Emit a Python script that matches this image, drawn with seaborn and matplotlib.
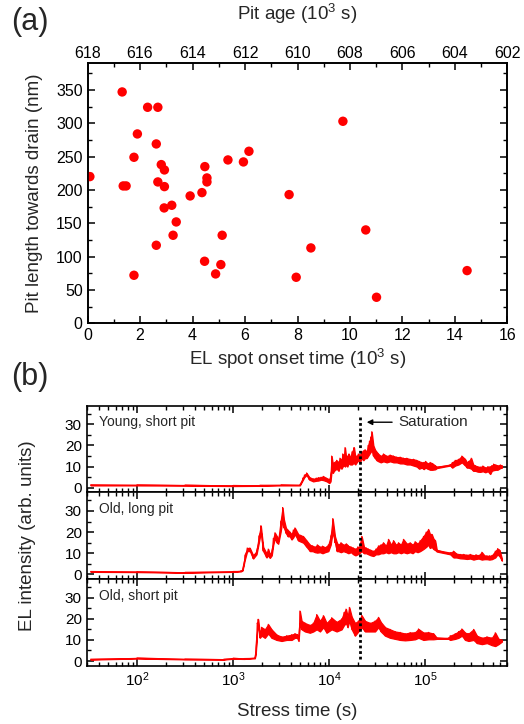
import numpy as np
import pandas as pd
import seaborn as sns
import matplotlib.pyplot as plt
from matplotlib.ticker import MultipleLocator, LogLocator, NullFormatter

### (a) pit length vs EL spot onset time
onset = [0.09, 1.32, 1.36, 1.47, 1.77, 1.77, 1.90, 2.29, 2.68, 2.62, 2.81, 2.93, 2.68,
         2.93, 2.92, 3.21, 3.38, 3.26, 2.62, 3.91, 4.36, 4.47, 4.55, 4.55, 4.46, 4.88,
         5.08, 5.13, 5.35, 5.94, 6.15, 7.68, 7.95, 8.51, 9.73, 10.60, 11.01, 14.46]
pit_len = [220, 347, 206, 206, 249, 72, 284, 324, 324, 269, 238, 230, 212,
           205, 173, 177, 152, 132, 117, 191, 196, 235, 218, 212, 93, 74,
           88, 132, 245, 242, 258, 193, 69, 113, 303, 140, 39, 79]
age_ref = 618  # pit age = 618 - onset (10^3 s)

### (b) EL traces: time (s), lower / upper edge of the noisy trace
young_t = [33, 100, 316, 1000, 1900, 3160, 4940, 5280, 5500, 5800, 6200, 6800, 7300, 7700,
           8200, 8660, 9400, 10000, 10300, 10570, 10900, 11200, 11900, 12500, 12900, 13400,
           13770, 14200, 14560, 15000, 15400, 16000, 16420, 17220, 18070, 18600, 19270,
           20000, 20850, 21700, 22590, 23500, 24490, 25300, 26120, 27000, 27610, 28730,
           29900, 31000, 32390, 34300, 36520, 39500, 42870, 46500, 50270, 54500, 59000,
           64000, 69250, 75000, 81220, 86000, 91580, 96000, 100000, 105000, 111900,
           118000, 126200, 131300, 180700, 190000, 203800, 220700, 238900, 258800,
           270000, 280500, 299200, 314000, 329000, 350000, 371000, 395000, 419000,
           445000, 472000, 490000, 511000, 540000, 562000, 600000, 624000]
young_lo = [1.1, 1.1, 1.0, 0.8, 0.9, 1.1, 1.1, 3.5, 5.0, 6.0, 3.8, 3.0, 3.3, 3.4,
            3.8, 3.6, 3.0, 2.2, 3.0, 8.0, 7.0, 8.0, 9.0, 8.0, 10.0, 9.0,
            10.0, 11.0, 10.0, 11.0, 10.0, 12.0, 11.0, 11.0, 12.0, 11.0, 12.0,
            13.0, 12.0, 14.0, 13.0, 14.0, 14.0, 15.0, 16.0, 17.0, 18.0, 15.0,
            14.0, 13.0, 12.5, 12.0, 12.5, 12.0, 12.5, 12.0, 12.0, 11.5, 11.5,
            11.0, 11.0, 10.5, 10.0, 9.0, 9.5, 8.8, 9.5, 9.0, 8.5,
            8.5, 8.7, 9.3, 10.5, 9.5, 10.5, 11.0, 12.0, 10.5,
            9.5, 9.5, 9.0, 8.0, 8.0, 7.6, 7.5, 7.8, 7.3,
            7.8, 6.5, 8.0, 8.3, 8.5, 8.5, 9.3, 9.5]
young_hi = [1.4, 1.4, 1.3, 1.1, 1.2, 1.4, 1.4, 4.5, 6.0, 7.0, 5.0, 4.2, 4.6, 4.8,
            5.0, 5.4, 4.5, 4.0, 6.0, 15.0, 11.0, 12.0, 13.0, 12.0, 14.0, 13.0,
            16.0, 15.0, 19.0, 14.0, 15.0, 16.0, 14.0, 17.0, 19.0, 15.0, 15.0,
            16.0, 15.5, 17.0, 17.5, 18.0, 17.0, 20.0, 22.0, 24.0, 26.5, 20.0,
            18.0, 17.0, 16.0, 15.0, 16.0, 15.0, 15.5, 15.0, 14.5, 14.5, 14.0,
            14.0, 13.5, 13.5, 13.0, 12.5, 12.0, 12.0, 12.5, 11.5, 12.0,
            11.5, 10.5, 9.8, 11.0, 12.0, 13.0, 13.5, 15.0, 13.5,
            12.0, 12.5, 14.0, 11.0, 10.5, 10.0, 9.8, 10.3, 9.5,
            10.0, 10.0, 10.5, 11.2, 10.8, 10.5, 10.8, 10.5]

oldlong_t = [33, 100, 316, 1000, 1200, 1251, 1324, 1399, 1492, 1615, 1750, 1849, 1941,
             2053, 2223, 2316, 2410, 2520, 2612, 2718, 2850, 2943, 3113, 3265, 3373,
             3540, 3700, 3891, 4050, 4217, 4387, 4753, 5050, 5357, 5805, 6292, 6700,
             7095, 7500, 8000, 8500, 9020, 9770, 10330, 10840, 11460, 12000, 12410,
             13200, 13990, 15000, 15770, 16800, 17780, 18700, 19720, 20500, 21720,
             22960, 24200, 25470, 27000, 28730, 30500, 32390, 34400, 36520, 38800,
             41180, 43800, 46420, 49300, 52350, 55500, 59000, 64000, 69250, 73500,
             78040, 82800, 87970, 95260, 101600, 107400, 111500, 116400, 121000,
             126200, 131300, 180700, 195900, 210000, 229600, 250000, 269800, 292000,
             316200, 335000, 356500, 386200, 410000, 435500, 463000, 491000, 532000,
             562300, 590200, 624000]
oldlong_lo = [1.2, 1.1, 0.8, 1.2, 1.4, 1.8, 7.0, 11.0, 11.0, 7.5, 9.5, 15.0, 20.0,
              11.0, 8.0, 9.0, 7.8, 9.0, 14.0, 17.0, 15.0, 14.5, 20.0, 26.0, 22.0,
              19.5, 18.0, 18.0, 16.5, 17.5, 19.0, 16.0, 15.5, 15.0, 13.0, 11.0, 11.0,
              10.5, 10.3, 10.5, 10.0, 10.5, 11.0, 14.0, 20.0, 15.0, 11.0, 11.0,
              10.5, 11.0, 10.5, 10.0, 10.5, 9.5, 9.0, 9.5, 10.0, 11.0,
              10.0, 10.0, 9.5, 9.0, 8.7, 9.5, 9.5, 10.0, 10.0, 10.5,
              10.0, 10.5, 10.0, 10.0, 10.5, 10.0, 10.5, 10.0, 10.5, 10.0,
              11.0, 10.5, 11.0, 12.0, 13.0, 14.0, 12.5, 13.0, 12.0,
              11.5, 10.8, 9.5, 8.0, 8.0, 7.6, 7.5, 7.3, 7.5,
              7.0, 7.3, 7.5, 7.0, 7.2, 7.2, 7.0, 7.2, 8.0,
              9.5, 8.5, 6.5]
oldlong_hi = [1.4, 1.3, 1.0, 1.4, 1.7, 2.2, 9.0, 12.5, 12.5, 9.0, 11.0, 18.0, 23.0,
              13.0, 10.0, 12.0, 9.5, 11.0, 17.0, 19.7, 18.0, 16.0, 25.0, 31.6, 26.0,
              22.0, 21.0, 20.0, 19.0, 21.0, 22.0, 19.0, 18.5, 18.0, 16.0, 14.0, 13.5,
              13.0, 14.0, 13.0, 13.4, 12.8, 14.0, 18.0, 26.4, 18.0, 15.0, 14.0,
              15.0, 14.0, 14.5, 13.5, 13.0, 12.5, 12.0, 13.0, 13.0, 18.0,
              13.0, 12.5, 12.0, 11.5, 11.0, 12.0, 13.5, 14.0, 15.0, 13.5,
              16.6, 14.0, 16.0, 14.0, 15.0, 14.0, 16.6, 14.5, 15.0, 14.0,
              15.5, 14.5, 16.0, 18.0, 20.0, 21.3, 19.0, 19.0, 17.0,
              16.0, 11.5, 10.3, 11.0, 9.8, 9.5, 9.5, 9.2, 9.5,
              9.0, 9.3, 9.0, 10.5, 9.0, 8.8, 8.8, 9.0, 11.0,
              12.2, 11.5, 7.5]

oldshort_t = [33, 100, 316, 800, 1000, 1300, 1682, 1722, 1778, 1820, 1896, 1974, 2138,
              2316, 2508, 2828, 3188, 3594, 4052, 4387, 4642, 4796, 4943, 5150, 5580,
              6292, 6812, 7379, 8000, 8664, 9375, 10570, 11920, 13430, 14220, 14920,
              15520, 16150, 17100, 18500, 20050, 21720, 23530, 26550, 29900, 32390,
              34280, 38020, 42870, 48310, 54450, 61380, 69250, 78040, 84480, 95260,
              107400, 121000, 131300, 173800, 180700, 203800, 220700, 238900, 258800,
              280500, 316200, 342700, 386200, 435500, 491000, 532000, 575400, 624000]
oldshort_lo = [0.7, 1.2, 0.8, 0.7, 1.1, 1.0, 1.3, 4.0, 14.0, 17.0, 11.0, 12.0, 11.0,
               13.0, 11.0, 10.0, 9.5, 10.0, 10.0, 11.0, 11.0, 9.5, 18.0, 15.0, 14.0,
               13.4, 14.0, 15.0, 14.0, 16.0, 13.4, 15.0, 14.0, 15.0, 17.0, 18.0,
               16.0, 19.0, 15.0, 12.0, 14.0, 16.0, 14.0, 14.0, 14.0, 16.0,
               14.0, 12.0, 11.0, 10.5, 10.0, 9.8, 10.0, 10.3, 11.0, 10.0,
               10.3, 10.3, 10.5, 10.5, 10.0, 10.5, 11.0, 12.0, 10.0,
               9.5, 10.0, 8.5, 8.0, 8.5, 7.5, 7.1, 8.0, 9.2]
oldshort_hi = [0.9, 1.5, 1.0, 0.9, 1.4, 1.2, 1.6, 6.0, 18.0, 19.8, 13.0, 16.0, 15.0,
               17.4, 15.0, 12.5, 11.5, 12.0, 12.5, 13.0, 12.6, 11.0, 23.7, 19.0, 18.0,
               17.0, 18.0, 22.0, 19.0, 21.5, 18.0, 20.5, 18.5, 20.0, 23.0, 24.6,
               21.0, 25.4, 21.0, 18.0, 19.0, 21.6, 19.0, 18.0, 19.0, 20.7,
               18.5, 16.0, 15.0, 14.0, 13.6, 13.0, 13.5, 13.6, 15.2, 13.5,
               13.6, 13.0, 11.0, 11.0, 12.0, 13.0, 14.0, 15.2, 13.4,
               13.0, 15.0, 12.0, 11.0, 11.5, 11.0, 13.4, 10.5, 10.0]

panel_names = ['Young, short pit', 'Old, long pit', 'Old, short pit']
saturation_t = 2.1e4

sns.set_theme(style='ticks')
plt.rcParams['font.family'] = ['Liberation Sans', 'DejaVu Sans']
plt.rcParams['mathtext.fontset'] = 'custom'
plt.rcParams['mathtext.rm'] = 'Liberation Sans'
plt.rcParams['mathtext.it'] = 'Liberation Sans:italic'
plt.rcParams['axes.linewidth'] = 1.2
plt.rcParams['axes.edgecolor'] = 'black'
for k in ['xtick', 'ytick']:
    plt.rcParams[k + '.direction'] = 'in'
    plt.rcParams[k + '.major.size'] = 5
    plt.rcParams[k + '.minor.size'] = 3
    plt.rcParams[k + '.major.width'] = 1.1
    plt.rcParams[k + '.minor.width'] = 1.0
    plt.rcParams[k + '.color'] = 'black'
    plt.rcParams[k + '.labelcolor'] = 'black'

fig = plt.figure(figsize=(5.24, 7.24), dpi=100)

### panel (a)
ax = fig.add_axes([0.167, 0.5535, 0.8015, 0.3591])
df = pd.DataFrame({'onset': onset, 'length': pit_len})
sns.scatterplot(data=df, x='onset', y='length', ax=ax, color='red', s=46,
                edgecolor='none', linewidth=0, zorder=3)
ax.set_xlim(0, 16)
ax.set_ylim(0, 390)
ax.xaxis.set_major_locator(MultipleLocator(2))
ax.xaxis.set_minor_locator(MultipleLocator(1))
ax.yaxis.set_major_locator(MultipleLocator(50))
ax.yaxis.set_minor_locator(MultipleLocator(25))
ax.tick_params(which='both', right=True, top=False, labelsize=11.5)
ax.set_xlabel('EL spot onset time (10$^3$ s)', fontsize=13.5, labelpad=3)
ax.set_ylabel('Pit length towards drain (nm)', fontsize=13.5)
ax.yaxis.set_label_coords(-0.105, 0.5)

ax_top = ax.twiny()
ax_top.set_xlim(age_ref - 0, age_ref - 16)
ax_top.xaxis.set_major_locator(MultipleLocator(2))
ax_top.xaxis.set_minor_locator(MultipleLocator(1))
ax_top.tick_params(which='both', labelsize=11.5, pad=1.5)
ax_top.set_xlabel('Pit age (10$^3$ s)', fontsize=13.5, labelpad=19)

### panel (b)
traces = [(young_t, young_lo, young_hi),
          (oldlong_t, oldlong_lo, oldlong_hi),
          (oldshort_t, oldshort_lo, oldshort_hi)]
h = 0.1197
axes_b = []
for i, (t, lo, hi) in enumerate(traces):
    axb = fig.add_axes([0.1655, 0.4396 - (i + 1) * h, 0.8015, h])
    axb.fill_between(t, lo, hi, color='red', edgecolor='red', linewidth=0.9, zorder=2)
    # zig-zag between the two edges gives the trace its noisy look
    zig_t = np.repeat(t, 2)
    zig_y = np.column_stack([lo, hi]).ravel()
    sns.lineplot(x=zig_t, y=zig_y, ax=axb, sort=False, estimator=None,
                 color='red', linewidth=0.8, zorder=2)
    axb.set_xscale('log')
    axb.set_xlim(30, 7e5)
    axb.set_ylim(-2.2, 38.8)
    axb.yaxis.set_major_locator(MultipleLocator(10))
    axb.yaxis.set_minor_locator(MultipleLocator(5))
    axb.xaxis.set_major_locator(LogLocator(base=10, numticks=10))
    axb.xaxis.set_minor_locator(LogLocator(base=10, subs=np.arange(2, 10), numticks=20))
    axb.xaxis.set_minor_formatter(NullFormatter())
    axb.tick_params(which='both', top=True, right=True, labelsize=11)
    if i < 2:
        axb.tick_params(labelbottom=False)
    axb.set_xlabel('')
    axb.set_ylabel('')
    axb.text(0.03, 0.81, panel_names[i], transform=axb.transAxes, fontsize=10,
             ha='left', va='center')
    lo_frac, hi_frac = 0.0, 1.0
    if i == 0:
        hi_frac = 0.895
    if i == 2:
        lo_frac = 0.078
    axb.axvline(saturation_t, ymin=lo_frac, ymax=hi_frac, color='black',
                ls=(0, (1, 1)), lw=2, zorder=3)
    axes_b.append(axb)

axes_b[0].annotate('Saturation', xy=(2.45e4, 31), xytext=(5.2e4, 31),
                   fontsize=11, ha='left', va='center',
                   arrowprops=dict(arrowstyle='-|>', color='black', lw=1,
                                   mutation_scale=8, shrinkA=2, shrinkB=0))
axes_b[2].set_xlabel('Stress time (s)', fontsize=13.5, labelpad=10)
fig.text(0.052, 0.2600, 'EL intensity (arb. units)', rotation=90, fontsize=13.5,
         ha='center', va='center')

fig.text(0.022, 0.97, '(a)', fontsize=22, ha='left', va='center')
fig.text(0.022, 0.479, '(b)', fontsize=22, ha='left', va='center')

fig.savefig('out.png', dpi=100)
